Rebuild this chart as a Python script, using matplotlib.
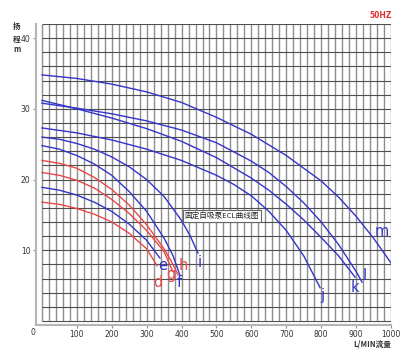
import numpy as np
import matplotlib
matplotlib.use('Agg')
import matplotlib.pyplot as plt

plt.rcParams['font.family'] = ['Noto Sans CJK SC', 'DejaVu Sans']

# flow (L/min) and head (m)
q_d = [0, 50, 100, 150, 200, 250, 300, 330]
h_d = [16.8, 16.5, 15.9, 15.1, 14.0, 12.4, 10.2, 7.8]
q_e = [0, 50, 100, 150, 200, 250, 300, 338]
h_e = [18.9, 18.5, 17.8, 16.8, 15.5, 13.7, 11.4, 8.9]
q_f = [0, 50, 100, 150, 200, 250, 300, 350, 375, 395]
h_f = [24.8, 24.3, 23.4, 22.2, 20.6, 18.3, 15.5, 11.7, 9.3, 6.5]
q_g = [0, 50, 100, 150, 200, 250, 300, 350, 375]
h_g = [21.0, 20.6, 19.9, 18.8, 17.2, 15.2, 12.8, 9.8, 7.0]
q_h = [0, 50, 100, 150, 200, 250, 300, 350, 370, 390]
h_h = [22.7, 22.3, 21.6, 20.3, 18.6, 16.4, 13.6, 10.2, 8.5, 6.5]
q_i = [0, 50, 100, 150, 200, 250, 300, 350, 400, 425, 447]
h_i = [26.0, 25.7, 25.1, 24.3, 23.2, 21.8, 20.0, 17.6, 14.2, 12.0, 9.6]
q_j = [0, 100, 200, 300, 400, 500, 550, 600, 650, 700, 750, 797]
h_j = [27.3, 26.6, 25.6, 24.3, 22.7, 20.6, 19.3, 17.7, 15.5, 12.8, 9.2, 4.7]
q_k = [0, 100, 200, 300, 400, 500, 600, 650, 700, 750, 800, 850, 897]
h_k = [31.2, 30.0, 28.7, 27.2, 25.4, 23.1, 20.2, 18.5, 16.5, 14.3, 11.8, 9.2, 6.2]
q_l = [0, 100, 200, 300, 400, 500, 600, 650, 700, 750, 800, 850, 900, 917]
h_l = [30.8, 30.1, 29.3, 28.3, 27.0, 25.2, 22.6, 21.0, 19.0, 16.7, 14.0, 10.8, 7.0, 5.5]
q_m = [0, 100, 200, 300, 400, 500, 600, 700, 800, 850, 900, 950, 1000]
h_m = [34.8, 34.3, 33.5, 32.4, 30.9, 28.8, 26.4, 23.4, 19.8, 17.5, 14.8, 11.7, 8.2]

names = ['d', 'e', 'f', 'g', 'h', 'i', 'j', 'k', 'l', 'm']
flows = [q_d, q_e, q_f, q_g, q_h, q_i, q_j, q_k, q_l, q_m]
heads = [h_d, h_e, h_f, h_g, h_h, h_i, h_j, h_k, h_l, h_m]
is_red = [True, False, False, True, True, False, False, False, False, False]
label_pos = [(332, 5.5), (347, 7.8), (393, 5.5), (370, 6.6), (404, 7.9),
             (453, 8.2), (802, 3.6), (897, 4.8), (925, 6.4), (974, 12.6)]

x_ticks = [100, 200, 300, 400, 500, 600, 700, 800, 900, 1000]
y_ticks = [10, 20, 30, 40]

BLUE = '#3434cc'
RED = '#e84848'

fig = plt.figure(figsize=(4.1, 3.55), dpi=100)
ax = fig.add_axes([0.0878, 0.0859, 0.8659, 0.8465])
ax.set_xlim(-17, 1000)
ax.set_ylim(-0.5, 42)

# grid
ax.vlines(np.arange(0, 1001, 20), 0, 42, color='#8e8e8e', lw=1.0, zorder=1)
ax.hlines(np.arange(0, 43, 2), 0, 1000, color='#505050', lw=0.8, zorder=1)

for n, q, h, red, pos in zip(names, flows, heads, is_red, label_pos):
    c = RED if red else BLUE
    ax.plot(q, h, color=c, lw=1.0, zorder=3, solid_joinstyle='round')
    ax.text(pos[0], pos[1], n, color=c, fontsize=10.5, ha='center', va='center',
            family=['DejaVu Sans'], zorder=4)

for s in ['top', 'right']:
    ax.spines[s].set_visible(False)
for s in ['left', 'bottom']:
    ax.spines[s].set_color('#b4b4b4')
    ax.spines[s].set_linewidth(1.5)

ax.set_xticks(x_ticks)
ax.set_yticks(y_ticks)
ax.tick_params(length=2, width=0.8, color='#909090', labelsize=5.5,
               labelcolor='#333333', pad=2)
for t in ax.get_xticklabels() + ax.get_yticklabels():
    t.set_family('DejaVu Sans')

ax.text(-25, -1.6, '0', fontsize=5.5, color='#333333', ha='center', va='center',
        clip_on=False, family=['DejaVu Sans'])
fig.text(17 / 410, 1 - 27 / 355, '扬', fontsize=5.5, color='#333333',
         ha='center', va='center', weight='bold')
fig.text(17 / 410, 1 - 39 / 355, '程', fontsize=5.5, color='#333333',
         ha='center', va='center', weight='bold')
fig.text(17 / 410, 1 - 50 / 355, 'm', fontsize=5.5, color='#333333',
         ha='center', va='center', weight='bold')
fig.text(381 / 410, 1 - 16 / 355, '50HZ', fontsize=5.5, color='#e03030',
         ha='center', va='center', weight='bold', family=['DejaVu Sans'])
fig.text(372 / 410, 1 - 344 / 355, 'L/MIN流量', fontsize=5.5, color='#333333',
         ha='center', va='center', weight='bold')
ax.text(515, 14.8, '固定自吸泵ECL曲线图', fontsize=5.5,
        color='#222222', ha='center', va='center', zorder=5,
        bbox=dict(boxstyle='square,pad=0.25', fc='white', ec='#666666', lw=0.8))

fig.savefig('out.png', dpi=100)
